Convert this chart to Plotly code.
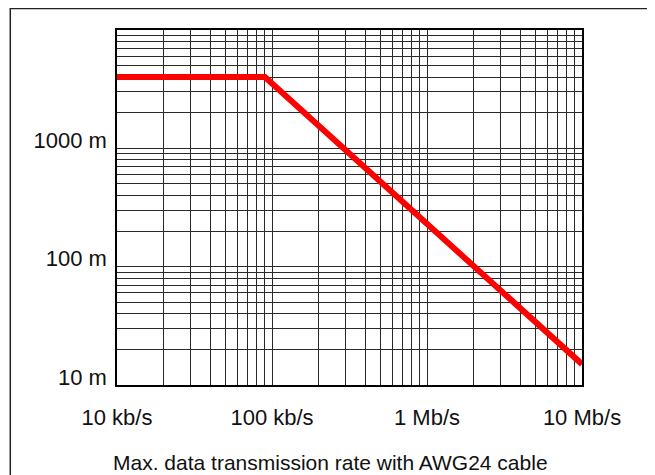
import plotly.graph_objects as go

# Data
rate_bps = [1e4, 9e4, 1e7]          # data rate (b/s)
length_m = [4000, 4000, 15]         # max. cable length (m)

x_tickvals = [1e4, 1e5, 1e6, 1e7]
x_ticktext = ["10 kb/s", "100 kb/s", "1 Mb/s", "10 Mb/s"]
y_tickvals = [10, 100, 1000]
y_ticktext = ["10 m", "100 m", "1000 m"]
caption = "Max. data transmission rate with AWG24 cable"

FONT = "Liberation Sans, Arial, Helvetica, sans-serif"
GRID = "#2a2a2a"

fig = go.Figure()
fig.add_trace(go.Scatter(
    x=rate_bps, y=length_m, mode="lines",
    line=dict(color="#ff0000", width=6),
    hoverinfo="skip", showlegend=False,
))

fig.update_layout(
    width=639, height=467,
    margin=dict(l=109, r=65, t=22, b=90),
    paper_bgcolor="white", plot_bgcolor="white",
    font=dict(family=FONT, size=22, color="#111111"),
    xaxis=dict(
        type="log", range=[4, 7],
        tickmode="array", tickvals=x_tickvals, ticktext=x_ticktext,
        showgrid=True, gridcolor=GRID, gridwidth=1,
        minor=dict(dtick="D1", showgrid=True, gridcolor=GRID, gridwidth=1),
        showline=True, mirror=True, linecolor="#000000", linewidth=1.5,
        ticks="", ticklabelstandoff=12, zeroline=False,
    ),
    yaxis=dict(
        type="log", range=[1, 4],
        tickmode="array", tickvals=y_tickvals, ticktext=y_ticktext,
        showgrid=True, gridcolor=GRID, gridwidth=1,
        minor=dict(dtick="D1", showgrid=True, gridcolor=GRID, gridwidth=1),
        showline=True, mirror=True, linecolor="#000000", linewidth=1.5,
        ticks="", ticklabelstandoff=4, ticklabelshift=-8, zeroline=False,
    ),
)

fig.add_annotation(
    text=caption, xref="paper", yref="paper", x=0.5, y=0,
    xshift=-19, yshift=-77, showarrow=False, xanchor="center", yanchor="middle",
    font=dict(family=FONT, size=21, color="#111111"),
)

# outer frame around the whole figure
fig.add_shape(
    type="rect", xref="paper", yref="paper",
    x0=-0.2295, x1=1.1445, y0=-0.30, y1=1.0605,
    line=dict(color="#222222", width=1.5), fillcolor="rgba(0,0,0,0)", layer="below",
)

fig.write_html("out.html")
